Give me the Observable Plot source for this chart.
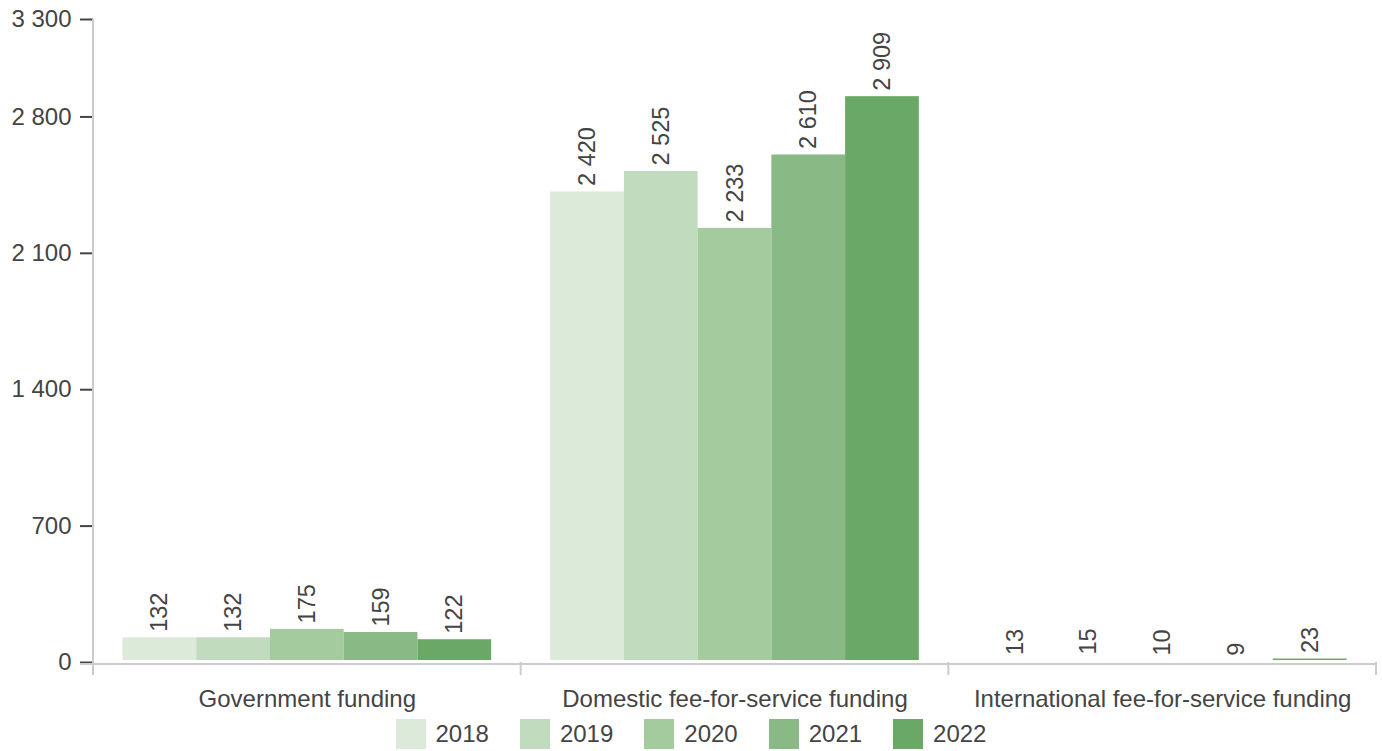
<!DOCTYPE html>
<html>
<head>
<meta charset="utf-8">
<script src="https://cdn.jsdelivr.net/npm/d3@7"></script>
<script src="https://cdn.jsdelivr.net/npm/@observablehq/plot@0.6"></script>
<style>
  html, body { margin: 0; padding: 0; background: #fff; }
  #legend { display: flex; justify-content: center; align-items: center; padding-top: 7px;
    font-family: "Liberation Sans", Arial, sans-serif; font-size: 24px; color: #444; }
  #legend .item { display: flex; align-items: center; margin: 0 15.5px; }
  #legend .sw { width: 30px; height: 30px; margin-right: 10px; }
</style>
</head>
<body>
<div id="chart"></div>
<div id="legend"></div>
<script>
const categories = ["Government funding", "Domestic fee-for-service funding", "International fee-for-service funding"];
const years = ["2018", "2019", "2020", "2021", "2022"];
const government = [132, 132, 175, 159, 122];
const domestic = [2420, 2525, 2233, 2610, 2909];
const international = [13, 15, 10, 9, 23];
const colors = ["#dcebd9", "#c0dbbe", "#a3cb9d", "#89b984", "#6aa865"];
const yTicks = [0, 700, 1400, 2100, 2800, 3300];

const series = [government, domestic, international];
const data = categories.flatMap((c, i) => years.map((y, j) => ({category: c, year: y, value: series[i][j]})));
const fmt = v => d3.format(",")(v).replace(/,/g, " ");

const chart = Plot.plot({
  width: 1382, height: 712,
  marginLeft: 93, marginRight: 6, marginTop: 19, marginBottom: 50,
  style: {fontFamily: "'Liberation Sans', Arial, sans-serif", fontSize: "24px", color: "#444", background: "#fff"},
  fx: {domain: categories, padding: 0, round: false, label: null, axis: "bottom", tickSize: 0, tickPadding: 27},
  x: {domain: years, paddingInner: 0, paddingOuter: 0.4, round: false, axis: null},
  y: {domain: [0, 3300], ticks: yTicks, tickFormat: fmt, tickSize: 13, tickPadding: 9, label: null},
  color: {domain: years, range: colors},
  marks: [
    Plot.barY(data, {fx: "category", x: "year", y: "value", fill: "year", insetTop: 1, insetBottom: 2}),
    Plot.text(data, {fx: "category", x: "year", y: "value", text: d => fmt(d.value),
      rotate: -90, textAnchor: "start", dy: -5, fill: "#444", fontSize: 23.5})
  ]
});

// axis lines and group separators derived from the plot's own scales
const fx = chart.scale("fx"), ys = chart.scale("y");
const svg = d3.select(chart);
svg.selectAll('[aria-label="y-axis tick"]').attr("stroke", "#ccc").attr("stroke-width", 2);
const y0 = ys.apply(0), yTop = ys.apply(ys.domain[1]);
const edges = categories.map(c => fx.apply(c));
edges.push(fx.apply(categories[categories.length - 1]) + fx.bandwidth);
const g = svg.append("g").attr("stroke", "#ccc").attr("stroke-width", 2);
g.append("line").attr("x1", edges[0] - 13).attr("x2", edges[edges.length - 1]).attr("y1", y0 + 2).attr("y2", y0 + 2);
g.append("line").attr("x1", edges[0]).attr("x2", edges[0]).attr("y1", yTop).attr("y2", y0 + 13);
edges.forEach(e => g.append("line").attr("x1", e).attr("x2", e).attr("y1", y0).attr("y2", y0 + 13));

document.getElementById("chart").appendChild(chart);

const legend = document.getElementById("legend");
years.forEach((y, i) => {
  const item = document.createElement("div");
  item.className = "item";
  item.innerHTML = `<span class="sw" style="background:${colors[i]}"></span><span>${y}</span>`;
  legend.appendChild(item);
});
</script>
</body>
</html>
